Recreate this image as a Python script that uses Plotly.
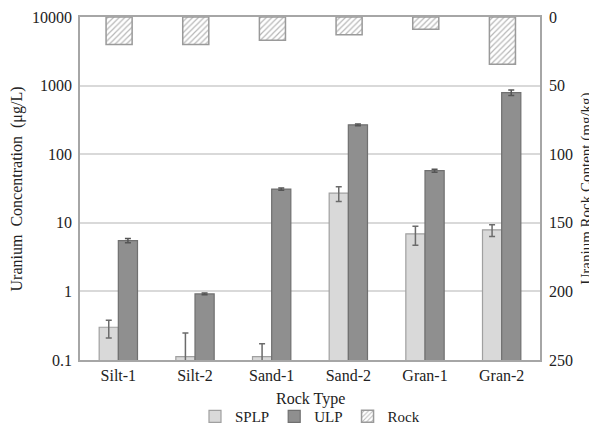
import plotly.graph_objects as go

categories = ["Silt-1", "Silt-2", "Sand-1", "Sand-2", "Gran-1", "Gran-2"]
splp = [0.30, 0.112, 0.112, 27, 6.9, 7.9]
splp_err_plus = [0.08, 0.135, 0.06, 6.5, 2.0, 1.5]
splp_err_minus = [0.09, 0.11, 0.11, 6.5, 2.2, 1.6]
ulp = [5.5, 0.92, 31, 268, 57.5, 790]
ulp_err = [0.4, 0.03, 1.2, 8, 3, 70]
rock = [20, 20, 17, 13, 9, 34.5]

left_ticks = [0.1, 1, 10, 100, 1000, 10000]
left_ticktext = ["0.1", "1", "10", "100", "1000", "10000"]
right_ticks = [0, 50, 100, 150, 200, 250]

FONT = "Liberation Serif, Times New Roman, serif"
FRAME = "#a6a6a6"

fig = go.Figure()
fig.add_trace(go.Bar(
    name="SPLP", x=categories, y=splp, width=0.25, offset=-0.25,
    marker=dict(color="#d9d9d9", line=dict(color="#a0a0a0", width=1.2)),
    error_y=dict(type="data", symmetric=False, array=splp_err_plus,
                 arrayminus=splp_err_minus, color="#6b6b6b", thickness=1.5, width=3),
    yaxis="y",
))
fig.add_trace(go.Bar(
    name="ULP", x=categories, y=ulp, width=0.25, offset=0,
    marker=dict(color="#8f8f8f", line=dict(color="#707070", width=1.2)),
    error_y=dict(type="data", array=ulp_err, color="#555555", thickness=1.5, width=3),
    yaxis="y",
))
fig.add_trace(go.Bar(
    name="Rock", x=categories, y=rock, width=0.34, offset=-0.16,
    marker=dict(color="white", line=dict(color="#9a9a9a", width=1.5),
                pattern=dict(shape="/", fgcolor="#707070", bgcolor="white",
                             size=4, solidity=0.3)),
    yaxis="y2",
))

fig.update_layout(
    width=589, height=425,
    margin=dict(l=72, r=57, t=9, b=73, autoexpand=False),
    paper_bgcolor="white", plot_bgcolor="white",
    font=dict(family=FONT, size=16, color="#222222"),
    barmode="overlay",
    showlegend=True,
    legend=dict(orientation="h", x=0.5, xanchor="center", y=-0.165, yanchor="middle",
                font=dict(size=15), itemwidth=30, traceorder="normal",
                tracegroupgap=0, bgcolor="rgba(0,0,0,0)"),
    xaxis=dict(
        showline=True, linecolor=FRAME, linewidth=1.5, mirror=True,
        ticks="", showgrid=False, tickfont=dict(size=16), automargin=False,
    ),
    yaxis=dict(
        type="log", range=[-1, 4],
        tickvals=left_ticks, ticktext=left_ticktext,
        showgrid=True, gridcolor="#d9d9d9", gridwidth=1.5,
        showline=True, linecolor=FRAME, linewidth=1.5,
        ticks="", tickfont=dict(size=16), automargin=False,
        ticklabelstandoff=3, zeroline=False,
    ),
    yaxis2=dict(
        overlaying="y", side="right", range=[250, 0],
        tickvals=right_ticks, showgrid=False,
        showline=True, linecolor=FRAME, linewidth=1.5,
        ticks="", tickfont=dict(size=16), automargin=False,
        ticklabelstandoff=4, zeroline=False,
    ),
    annotations=[
        dict(text="Rock Type", xref="paper", yref="paper",
             x=0.5, y=-0.114, showarrow=False,
             xanchor="center", yanchor="middle", font=dict(size=16)),
        dict(text="Uranium  Concentration  (μg/L)", xref="paper", yref="paper",
             x=-0.137, y=0.5, textangle=-90, showarrow=False,
             xanchor="center", yanchor="middle", font=dict(size=16)),
        dict(text="Uranium Rock Content (mg/kg)", xref="paper", yref="paper",
             x=1.100, y=0.5, textangle=-90, showarrow=False,
             xanchor="center", yanchor="middle", font=dict(size=15)),
    ],
)

fig.write_html("out.html")
